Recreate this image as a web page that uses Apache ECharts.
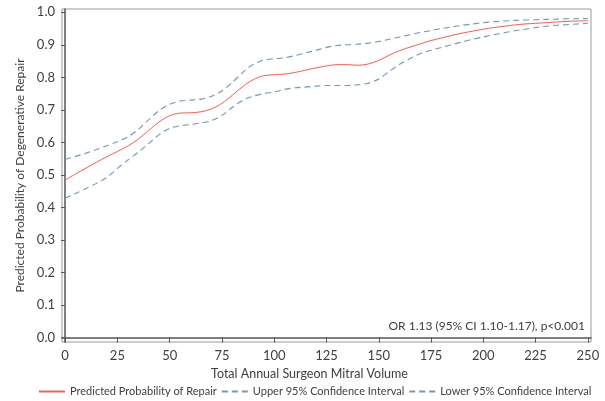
<!DOCTYPE html>
<html>
<head>
<meta charset="utf-8">
<script src="https://cdn.jsdelivr.net/npm/echarts@6/dist/echarts.min.js"></script>
<style>
  html, body { margin: 0; padding: 0; background: #fff; }
  #chart { width: 605px; height: 401px; }
</style>
</head>
<body>
<div id="chart"></div>
<script>
// surgeon volume (x) and the three curves
const volume = [0,5,10,15,20,25,30,35,40,45,50,55,60,65,70,75,80,85,90,95,100,
  105,110,115,120,125,130,135,140,145,150,155,160,165,170,175,180,185,190,195,200,
  205,210,215,220,225,230,235,240,245,250];
const predicted = [0.484,0.503,0.521,0.539,0.556,0.572,0.589,0.610,0.637,0.663,0.682,
  0.690,0.691,0.694,0.703,0.720,0.745,0.772,0.793,0.805,0.808,
  0.810,0.815,0.822,0.829,0.835,0.839,0.839,0.837,0.841,0.852,
  0.868,0.882,0.893,0.903,0.913,0.921,0.929,0.936,0.942,0.948,
  0.953,0.957,0.961,0.964,0.966,0.968,0.970,0.972,0.973,0.974];
const upperCI = [0.548,0.557,0.567,0.578,0.590,0.602,0.617,0.640,0.670,0.698,0.717,
  0.727,0.730,0.733,0.742,0.758,0.785,0.815,0.840,0.853,0.857,
  0.860,0.867,0.875,0.883,0.892,0.898,0.900,0.902,0.905,0.910,
  0.917,0.924,0.931,0.938,0.944,0.950,0.955,0.960,0.964,0.968,
  0.971,0.973,0.975,0.976,0.977,0.978,0.979,0.980,0.980,0.981];
const lowerCI = [0.428,0.443,0.458,0.474,0.493,0.520,0.546,0.570,0.597,0.624,0.643,
  0.651,0.655,0.660,0.667,0.683,0.708,0.730,0.742,0.750,0.755,
  0.763,0.768,0.770,0.773,0.775,0.775,0.775,0.777,0.782,0.795,
  0.818,0.840,0.858,0.873,0.883,0.892,0.901,0.909,0.917,0.924,
  0.931,0.937,0.943,0.948,0.953,0.957,0.960,0.962,0.964,0.966];
const xTicks = [0,25,50,75,100,125,150,175,200,225,250];
const yTicks = [0,0.1,0.2,0.3,0.4,0.5,0.6,0.7,0.8,0.9,1.0];

const pairs = ys => volume.map((v, i) => [v, ys[i]]);

const font = 'Lato';
const textCol = '#404040';
const ciCol = '#7f97ab';
const redCol = '#e0685c';

const chart = echarts.init(document.getElementById('chart'), null, { renderer: 'canvas' });

chart.setOption({
  animation: false,
  textStyle: { fontFamily: font },
  grid: {
    left: 62, right: 14, top: 9, bottom: 59,
    show: true, borderColor: '#9a9a9a', borderWidth: 1
  },
  xAxis: {
    type: 'value',
    min: -1.5, max: 251.5,
    name: 'Total Annual Surgeon Mitral Volume',
    nameLocation: 'middle',
    nameGap: 25,
    nameTextStyle: { color: textCol, fontSize: 12.5, fontFamily: font, padding: [0, 34, 0, 0] },
    axisLine: { lineStyle: { color: '#555', width: 1.5 } },
    axisTick: { show: true, length: 5, customValues: xTicks, lineStyle: { color: '#555' } },
    axisLabel: { customValues: xTicks, color: textCol, fontSize: 13, margin: 7 },
    splitLine: { show: false }
  },
  yAxis: {
    type: 'value',
    min: -0.0135, max: 1.01,
    name: 'Predicted Probability of Degenerative Repair',
    nameLocation: 'middle',
    nameGap: 36,
    nameTextStyle: { color: textCol, fontSize: 12, fontFamily: font },
    axisLine: { show: true, lineStyle: { color: '#555', width: 1.5 } },
    axisTick: { show: true, length: 4, customValues: yTicks, lineStyle: { color: '#555' } },
    axisLabel: {
      customValues: yTicks, color: textCol, fontSize: 13, margin: 7,
      formatter: v => v.toFixed(1)
    },
    splitLine: { show: false }
  },
  legend: {
    bottom: 4, left: 38, width: 567, padding: 0,
    itemWidth: 26, itemHeight: 10, itemGap: 4,
    itemStyle: { opacity: 0 },
    textStyle: { color: textCol, fontSize: 11, fontFamily: font },
    data: ['Predicted Probability of Repair', 'Upper 95% Confidence Interval', 'Lower 95% Confidence Interval']
  },
  graphic: [{
    type: 'text',
    right: 20, top: 320,
    style: { text: 'OR 1.13 (95% CI 1.10-1.17), p<0.001', fill: textCol, font: '12px ' + font }
  }],
  series: [
    {
      name: 'Predicted Probability of Repair',
      type: 'line', showSymbol: false, symbol: 'none', smooth: 0.3,
      lineStyle: { color: redCol, width: 1, shadowColor: 'rgba(245,170,160,0.3)', shadowBlur: 3 },
      itemStyle: { color: redCol },
      data: pairs(predicted)
    },
    {
      name: 'Upper 95% Confidence Interval',
      type: 'line', showSymbol: false, symbol: 'none', smooth: 0.3,
      lineStyle: { color: ciCol, width: 1.1, type: [6, 4], shadowColor: 'rgba(160,210,235,0.3)', shadowBlur: 3 },
      itemStyle: { color: ciCol },
      data: pairs(upperCI)
    },
    {
      name: 'Lower 95% Confidence Interval',
      type: 'line', showSymbol: false, symbol: 'none', smooth: 0.3,
      lineStyle: { color: ciCol, width: 1.1, type: [6, 4], shadowColor: 'rgba(160,210,235,0.3)', shadowBlur: 3 },
      itemStyle: { color: ciCol },
      data: pairs(lowerCI)
    }
  ]
});
</script>
</body>
</html>
